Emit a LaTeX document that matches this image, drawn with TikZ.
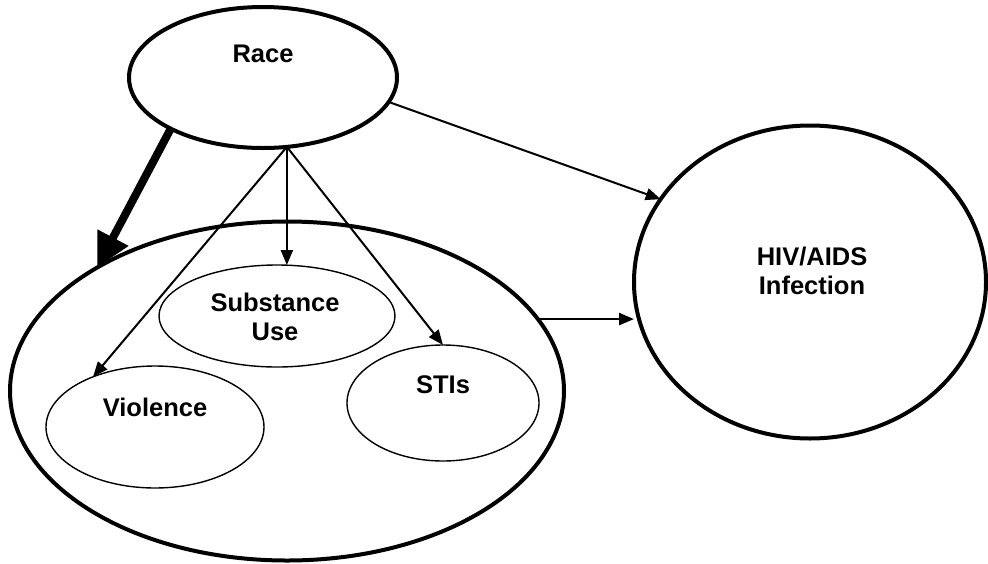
\documentclass[tikz,border=0pt]{standalone}
\usepackage{fontspec}
\setmainfont{Liberation Sans}
\usetikzlibrary{shapes.geometric,arrows.meta}
\begin{document}
\begin{tikzpicture}[x=1pt,y=-1pt,
  outer/.style={ellipse,draw,line width=4pt,inner sep=0pt,outer sep=0pt},
  inner/.style={ellipse,draw,line width=1.4pt,inner sep=0pt,outer sep=0pt},
  lbl/.style={font=\fontsize{25.5}{29}\selectfont\bfseries,align=center,inner sep=0pt},
  link/.style={line width=2pt,-{Triangle[length=15pt,width=12pt]}},
  heavy/.style={line width=8pt,-{Triangle[length=34pt,width=33pt]}}]
\useasboundingbox (0,0) rectangle (988,563);

% main ellipses
\node[outer,minimum width=268pt,minimum height=141pt] (race) at (263,77.5) {};
\node[outer,minimum width=554pt,minimum height=339pt] (group) at (287,391) {};
\node[outer,minimum width=352pt,minimum height=313pt] (hiv) at (810,282) {};

% risk factors inside the group
\node[inner,minimum width=236pt,minimum height=102pt] (subst) at (277,316) {};
\node[inner,minimum width=218pt,minimum height=122pt] (viol) at (155,427) {};
\node[inner,minimum width=192pt,minimum height=116pt] (stis) at (443,403) {};

% labels
\node[lbl,anchor=base] (raceText) at (263,62) {Race};
\node[lbl] (substText) at (275,316.7) {Substance\\Use};
\node[lbl,anchor=base] (violText) at (155,416.5) {Violence};
\node[lbl,anchor=base] (stisText) at (443,393) {STIs};
\node[lbl] (hivText) at (812,271) {HIV/AIDS\\Infection};

% connectors
\draw[link] (race.289) -- (race.289 |- subst.north);
\draw[link] (race.289) -- (viol.141);
\draw[link] (race.289) -- (stis.north);
\draw[link] (race.349.7) -- (hiv.151);
\draw[link,line width=2.5pt] (group.16) -- (group.16 -| hiv.west);
\draw[heavy] (race.209.7) -- (group.147.8);
\end{tikzpicture}
\end{document}
